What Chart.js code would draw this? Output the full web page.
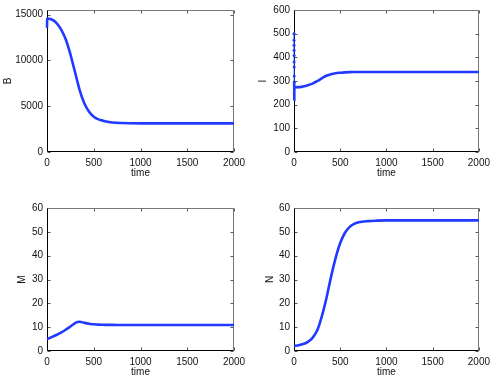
<!DOCTYPE html>
<html>
<head>
<meta charset="utf-8">
<script src="https://cdn.jsdelivr.net/npm/chart.js@4.4.1/dist/chart.umd.min.js"></script>
<style>
  html, body { margin: 0; padding: 0; background: #fff; }
  #wrap { position: relative; width: 495px; height: 379px; }
  #wrap canvas { position: absolute; left: 0; top: 0; }
</style>
</head>
<body>
<div id="wrap">
  <canvas id="cB" width="495" height="379"></canvas>
  <canvas id="cI" width="495" height="379"></canvas>
  <canvas id="cM" width="495" height="379"></canvas>
  <canvas id="cN" width="495" height="379"></canvas>
</div>
<script>
// ---------- data ----------
const time    = [0, 50, 100, 150, 200, 250, 275, 300, 325, 350, 400, 450, 500, 550, 600, 650, 700, 800, 900, 1000, 1250, 1500, 1750, 2000];
const bValues = [14570, 14460, 14100, 13380, 12300, 10680, 9700, 8700, 7700, 6730, 5290, 4390, 3850, 3560, 3420, 3300, 3220, 3160, 3140, 3130, 3130, 3130, 3130, 3130];
const iValues = [273, 274, 277, 282, 289, 299, 305, 311, 317, 322, 329, 333, 335, 336.5, 337.5, 338, 338, 338, 338, 338, 338, 338, 338, 338];
const mValues = [5, 5.8, 6.7, 7.7, 8.9, 10.3, 11.0, 11.7, 12.2, 12.3, 11.8, 11.4, 11.2, 11.05, 11.0, 10.95, 10.95, 10.9, 10.9, 10.9, 10.9, 10.9, 10.9, 10.9];
const nValues = [2.1, 2.4, 2.9, 3.8, 5.5, 8.6, 11.2, 14.4, 18, 22, 31, 39, 45.3, 49.5, 52, 53.3, 54, 54.5, 54.7, 54.8, 54.8, 54.8, 54.8, 54.8];
// initial fast transients at t≈0
const bStartT = [0, 1, 2, 3];
const bStartV = [13560, 14100, 14450, 14570];
const iStartT = [0, 0.3, 0.6, 0.9, 1.2, 1.5, 1.8, 2.1, 2.4, 2.7, 3.0, 3.3, 3.6, 3.9];
const iStartV = [500, 472, 451, 430, 408, 380, 359, 321, 296, 260, 235, 220, 250, 273];
// ticks
const xTicks  = [0, 500, 1000, 1500, 2000];
const bTicks  = [0, 5000, 10000, 15000];
const iTicks  = [0, 100, 200, 300, 400, 500, 600];
const mnTicks = [0, 10, 20, 30, 40, 50, 60];

// ---------- helpers ----------
const FONT = { family: "'Liberation Sans', Arial, Helvetica, sans-serif", size: 10, lineHeight: 1.2 };
const BLUE = 'rgb(34,58,255)';
const W = 495, H = 379;

function pts(ts, vs) { return ts.map((t, i) => ({ x: t, y: vs[i] })); }

const boxPlugin = {
  id: 'matlabBox',
  beforeDatasetsDraw(chart) {
    const { ctx, chartArea: a, scales } = chart;
    const L = Math.round(a.left) + 0.5, R = Math.round(a.right) - 0.5;
    const T = Math.round(a.top) + 0.5, B = Math.round(a.bottom) - 0.5;
    ctx.save();
    ctx.lineWidth = 1;
    ctx.strokeStyle = '#555';
    const tl = 3;
    scales.x.ticks.forEach(t => {
      const px = Math.round(scales.x.getPixelForValue(t.value)) + 0.5;
      ctx.beginPath(); ctx.moveTo(px, B); ctx.lineTo(px, B - tl); ctx.stroke();
      ctx.beginPath(); ctx.moveTo(px, T); ctx.lineTo(px, T + tl); ctx.stroke();
    });
    scales.y.ticks.forEach(t => {
      const py = Math.round(scales.y.getPixelForValue(t.value)) + 0.5;
      ctx.beginPath(); ctx.moveTo(L, py); ctx.lineTo(L + tl, py); ctx.stroke();
      ctx.beginPath(); ctx.moveTo(R, py); ctx.lineTo(R - tl, py); ctx.stroke();
    });
    ctx.strokeStyle = '#777';
    ctx.beginPath(); ctx.moveTo(L, T); ctx.lineTo(R, T); ctx.lineTo(R, B); ctx.stroke();
    ctx.strokeStyle = '#000';
    ctx.beginPath(); ctx.moveTo(L, T); ctx.lineTo(L, B); ctx.lineTo(R, B); ctx.stroke();
    ctx.restore();
  }
};

function makePanel(id, cfg) {
  const xAxisH = 27;
  const padL = cfg.titleX - 6;
  new Chart(document.getElementById(id), {
    type: 'line',
    data: {
      datasets: [{
        data: cfg.data,
        borderColor: BLUE,
        backgroundColor: BLUE,
        borderWidth: 2.6,
        pointRadius: cfg.pointRadius || 0,
        pointBorderWidth: 0,
        cubicInterpolationMode: 'monotone',
        fill: false,
        clip: 3,
        segment: cfg.segment || {}
      }]
    },
    options: {
      responsive: false,
      animation: false,
      devicePixelRatio: 1,
      layout: { padding: { left: padL, top: cfg.top, right: W - cfg.right, bottom: H - cfg.bottom - xAxisH } },
      plugins: { legend: { display: false }, tooltip: { enabled: false } },
      scales: {
        x: {
          type: 'linear', min: 0, max: 2000,
          grid: { display: false, drawTicks: false },
          border: { display: false },
          afterBuildTicks: s => { s.ticks = xTicks.map(v => ({ value: v })); },
          afterFit: s => { s.height = xAxisH; },
          ticks: { font: FONT, color: '#111', padding: 5, maxRotation: 0, autoSkip: false, callback: v => String(v) },
          title: { display: true, text: 'time', font: FONT, color: '#111', padding: { top: 0, bottom: 0 } }
        },
        y: {
          type: 'linear', min: cfg.ymin, max: cfg.ymax,
          grid: { display: false, drawTicks: false },
          border: { display: false },
          afterBuildTicks: s => { s.ticks = cfg.yTicks.map(v => ({ value: v })); },
          afterFit: s => { s.width = cfg.left - padL; },
          ticks: { font: FONT, color: '#111', padding: 4, autoSkip: false, callback: v => String(v) },
          title: { display: true, text: cfg.label, font: FONT, color: '#111', padding: { top: 0, bottom: 0 } }
        }
      }
    },
    plugins: [boxPlugin]
  });
}

makePanel('cB', {
  label: 'B', left: 47, right: 234, top: 9, bottom: 152, titleX: 8,
  ymin: 0, ymax: 15500, yTicks: bTicks,
  data: pts(bStartT, bStartV).concat(pts(time.slice(1), bValues.slice(1)))
});
makePanel('cI', {
  label: 'I', left: 294, right: 481, top: 9, bottom: 152, titleX: 263,
  ymin: 0, ymax: 600, yTicks: iTicks,
  data: pts(iStartT, iStartV).concat(pts(time.slice(1), iValues.slice(1))),
  pointRadius: ctx => (ctx.dataIndex < 9 ? 1.5 : 0),
  segment: { borderWidth: ctx => (ctx.p0DataIndex < 8 ? 1 : undefined) }
});
makePanel('cM', {
  label: 'M', left: 47, right: 234, top: 208, bottom: 351, titleX: 22,
  ymin: 0, ymax: 60, yTicks: mnTicks,
  data: pts(time, mValues)
});
makePanel('cN', {
  label: 'N', left: 294, right: 481, top: 208, bottom: 351, titleX: 270,
  ymin: 0, ymax: 60, yTicks: mnTicks,
  data: pts(time, nValues)
});
</script>
</body>
</html>
